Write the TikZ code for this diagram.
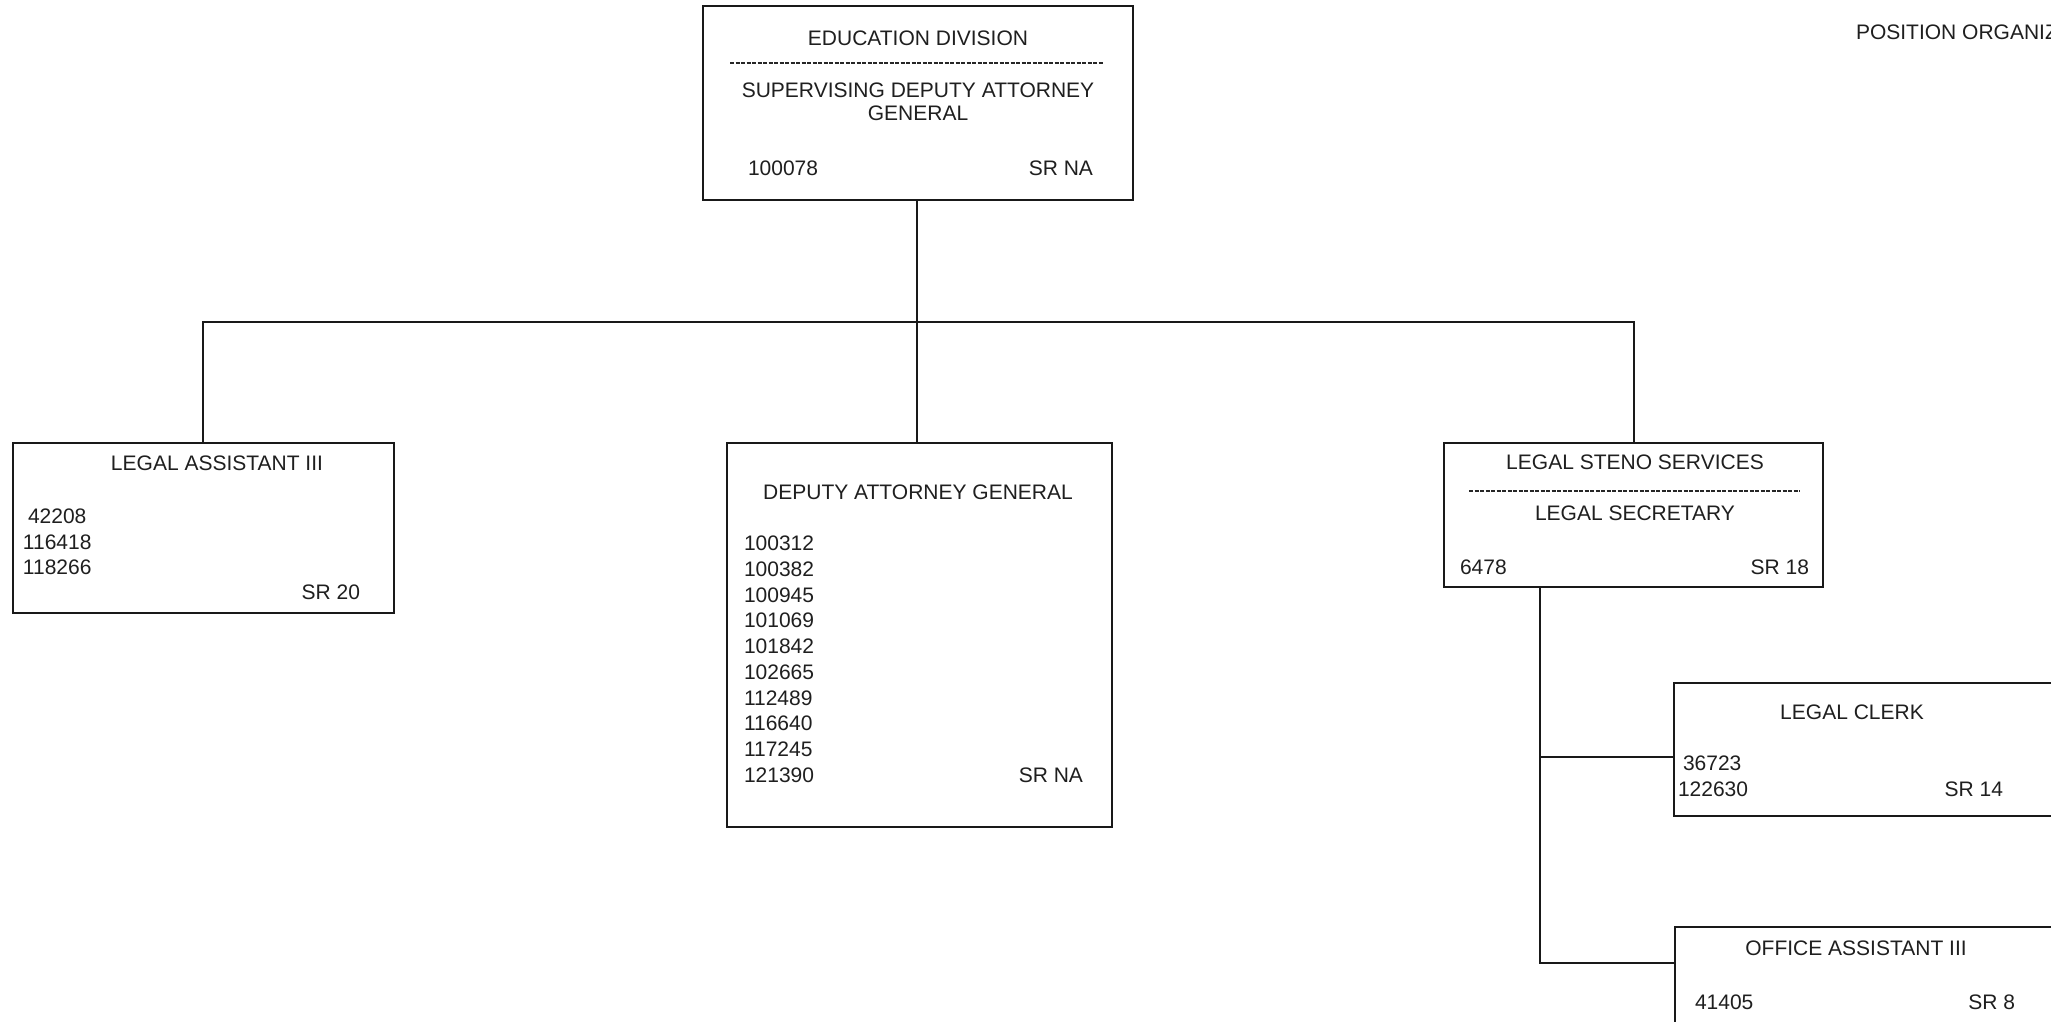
\documentclass[tikz,border=0pt]{standalone}
\usepackage{fontspec}
\setmainfont{Liberation Sans}
\begin{document}
\begin{tikzpicture}[x=1pt,y=-1pt,
  box/.style={draw=black!90,line width=2.4pt,inner sep=0pt,outer sep=0pt,anchor=north west},
  txt/.style={inner sep=0pt,outer sep=0pt,text=black!88,font=\fontsize{21}{25}\selectfont},
  lt/.style={txt,anchor=base west},
  rt/.style={txt,anchor=base east},
  ct/.style={txt,anchor=base},
  conn/.style={draw=black!90,line width=2.4pt},
  sep/.style={draw=black!85,line width=1.4pt,dash pattern=on 4pt off 1.5pt}]
\useasboundingbox (0,0) rectangle (2051,1021);
\clip (0,0) rectangle (2051,1021);
\fill[white] (0,0) rectangle (2051,1021);

% title
\node[lt] (title) at (1856,39.5) {POSITION ORGANIZ};

% boxes
\node[box,minimum width=430pt,minimum height=194pt] (top) at (703,6) {};
\node[box,minimum width=381pt,minimum height=170pt] (la) at (13,443) {};
\node[box,minimum width=385pt,minimum height=384pt] (dag) at (727,443) {};
\node[box,minimum width=379pt,minimum height=144pt] (steno) at (1444,443) {};
\node[box,minimum width=420pt,minimum height=133pt] (clerk) at (1674,683) {};
\node[box,minimum width=420pt,minimum height=140pt] (oa) at (1675,927) {};

% top box text
\node[ct] (t1) at (918,45.5) {EDUCATION DIVISION};
\coordinate (d1a) at (730,63);
\coordinate (d1b) at (1103,63);
\draw[sep] (d1a) -- (d1b);
\node[ct] (t2) at (918,97.5) {SUPERVISING DEPUTY ATTORNEY};
\node[ct] (t3) at (918,120.5) {GENERAL};
\node[lt] (t4) at (748,175.5) {100078};
\node[rt] (t5) at (1093,175.5) {SR NA};

% legal assistant
\node[ct] (la1) at (217,470.5) {LEGAL ASSISTANT III};
\node[lt] (la2) at (28,523.5) {42208};
\node[lt] (la3) at (23,549.5) {116418};
\node[lt] (la4) at (23,574.5) {118266};
\node[rt] (la5) at (360,599.5) {SR 20};

% deputy attorney general
\node[ct] (dg0) at (918,499.5) {DEPUTY ATTORNEY GENERAL};
\foreach \n [count=\i from 0] in {100312,100382,100945,101069,101842,102665,112489,116640,117245,121390}
  \node[lt] (dg\n) at (744,{550.5+25.78*\i}) {\n};
\node[rt] (dgsr) at (1083,782.5) {SR NA};

% steno
\node[ct] (st1) at (1635,469.5) {LEGAL STENO SERVICES};
\coordinate (d2a) at (1469,491);
\coordinate (d2b) at (1800,491);
\draw[sep] (d2a) -- (d2b);
\node[ct] (st2) at (1635,520.5) {LEGAL SECRETARY};
\node[lt] (st3) at (1460,574.5) {6478};
\node[rt] (st4) at (1809,574.5) {SR 18};

% legal clerk
\node[ct] (cl1) at (1852,719.5) {LEGAL CLERK};
\node[lt] (cl2) at (1683,770.5) {36723};
\node[lt] (cl3) at (1678,796.5) {122630};
\node[rt] (cl4) at (2003,796.5) {SR 14};

% office assistant
\node[ct] (oa1) at (1856,955.5) {OFFICE ASSISTANT III};
\node[lt] (oa2) at (1695,1009.5) {41405};
\node[rt] (oa3) at (2015,1009.5) {SR 8};

% connectors
\coordinate (topb) at (917,200);
\coordinate (dagt) at (917,443);
\coordinate (busL) at (203,322);
\coordinate (busR) at (1634,322);
\draw[conn] (topb) -- (dagt);
\draw[conn] (la.north -| busL) -- (busL) -- (busR) -- (steno.north -| busR);
\coordinate (trunk) at (1540,587);
\coordinate (clj) at (1674,757);
\coordinate (oaj) at (1675,963);
\draw[conn] (trunk) |- (oaj);
\draw[conn] (trunk |- clj) -- (clj);
\end{tikzpicture}
\end{document}
